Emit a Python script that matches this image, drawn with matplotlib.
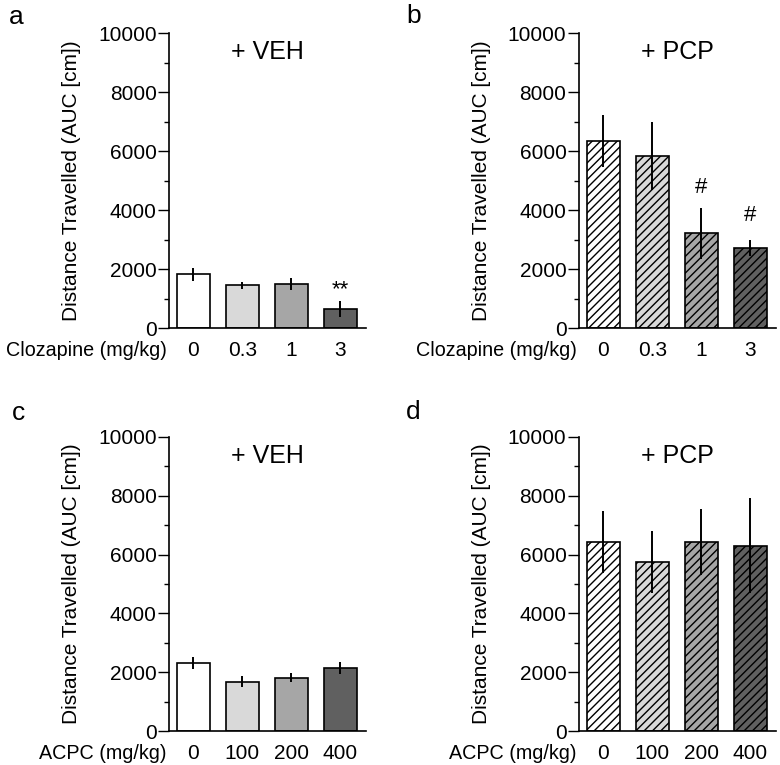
import matplotlib.pyplot as plt
import numpy as np

plt.rcParams['font.family'] = ['Liberation Sans', 'DejaVu Sans']
plt.rcParams['hatch.linewidth'] = 1.0

clz_doses = ['0', '0.3', '1', '3']
acpc_doses = ['0', '100', '200', '400']

clz_veh = [1830, 1450, 1490, 660]
clz_veh_err = [220, 110, 200, 270]
clz_pcp = [6350, 5820, 3210, 2700]
clz_pcp_err = [880, 1150, 860, 270]

acpc_veh = [2316, 1684, 1820, 2136]
acpc_veh_err = [200, 190, 150, 200]
acpc_pcp = [6430, 5750, 6430, 6300]
acpc_pcp_err = [1050, 1060, 1120, 1620]

bar_colors = ['#ffffff', '#d9d9d9', '#a6a6a6', '#606060']

fs = 15
xpad = 9

def draw_panel(ax, vals, errs, doses, drug, title, hatched, marks=None):
    x = np.arange(len(vals))
    ax.bar(x, vals, width=0.67, color=bar_colors, edgecolor='black', linewidth=1.2,
           hatch='////' if hatched else None, zorder=2)
    ax.errorbar(x, vals, yerr=errs, fmt='none', ecolor='black', elinewidth=1.4,
                capsize=0, zorder=3)
    ax.set_xlim(-0.5, 3.52)
    ax.set_ylim(0, 10000)
    ax.set_yticks(np.arange(0, 10001, 2000))
    ax.set_yticks(np.arange(1000, 10000, 2000), minor=True)
    ax.tick_params(axis='y', which='major', length=8, width=1, labelsize=fs, pad=1)
    ax.tick_params(axis='y', which='minor', length=3.5, width=1)
    ax.set_xticks(x)
    ax.set_xticklabels(doses, fontsize=fs)
    ax.tick_params(axis='x', length=0, pad=xpad)
    for s in ['top', 'right']:
        ax.spines[s].set_visible(False)
    for s in ['left', 'bottom']:
        ax.spines[s].set_linewidth(1.2)
    ax.set_ylabel('Distance Travelled (AUC [cm])', fontsize=fs, labelpad=12.5)
    ax.annotate(drug, xy=(0, 0), xycoords='axes fraction', xytext=(-1.5, -xpad),
                textcoords='offset points', ha='right', va='top', fontsize=14.2)
    ax.text(0.5, 0.935, title, transform=ax.transAxes, ha='center', va='center',
            fontsize=18)
    if marks:
        for i, (sym, y) in marks.items():
            ax.text(i, y, sym, ha='center', va='center', fontsize=fs + 1)

fig = plt.figure(figsize=(7.8, 7.65), dpi=100)
ax_a = fig.add_axes([0.2167, 0.5712, 0.252, 0.3856])
ax_b = fig.add_axes([0.7423, 0.5712, 0.252, 0.3856])
ax_c = fig.add_axes([0.2167, 0.0444, 0.252, 0.3844])
ax_d = fig.add_axes([0.7423, 0.0444, 0.252, 0.3844])

draw_panel(ax_a, clz_veh, clz_veh_err, clz_doses, 'Clozapine (mg/kg)', '+ VEH', False,
           {3: ('**', 1300)})
draw_panel(ax_b, clz_pcp, clz_pcp_err, clz_doses, 'Clozapine (mg/kg)', '+ PCP', True,
           {2: ('#', 4750), 3: ('#', 3810)})
draw_panel(ax_c, acpc_veh, acpc_veh_err, acpc_doses, 'ACPC (mg/kg)', '+ VEH', False)
draw_panel(ax_d, acpc_pcp, acpc_pcp_err, acpc_doses, 'ACPC (mg/kg)', '+ PCP', True)

for letter, (px, py) in zip('abcd', [(9, 17), (406, 16), (12, 413), (406, 412)]):
    fig.text(px / 780, 1 - py / 765, letter, ha='left', va='center', fontsize=19)

fig.savefig('out.png', dpi=100)
